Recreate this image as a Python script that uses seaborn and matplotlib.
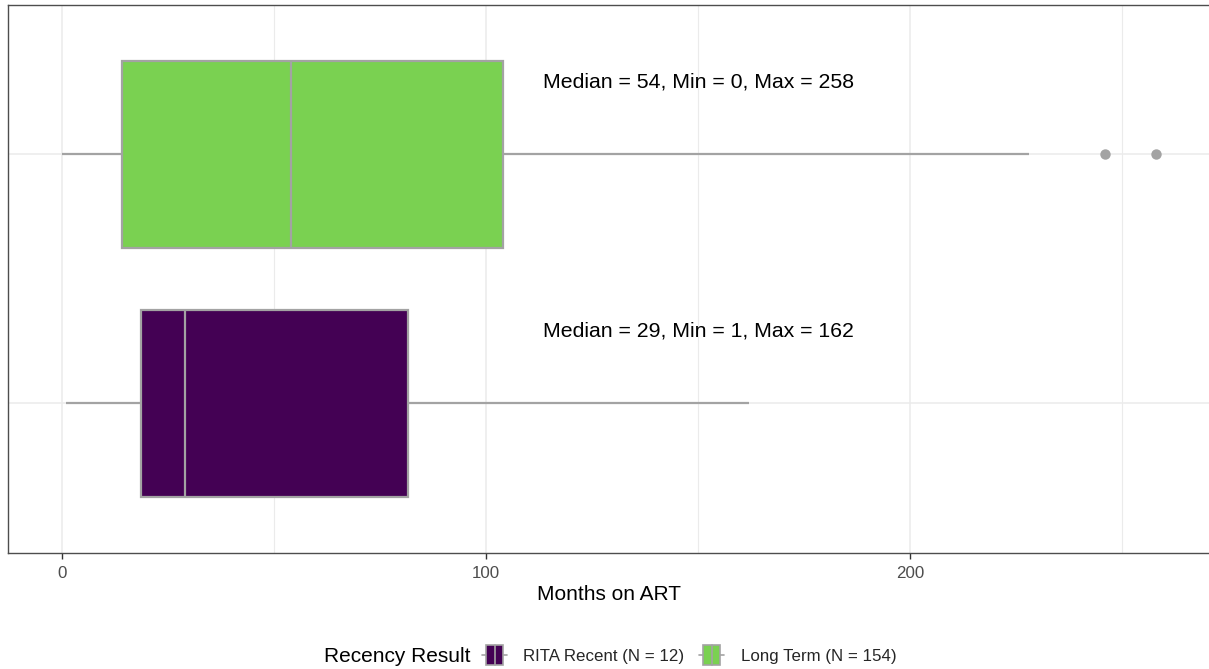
import numpy as np
import pandas as pd
import seaborn as sns
import matplotlib.pyplot as plt
from matplotlib.legend_handler import HandlerBase
from matplotlib.patches import Rectangle, Patch
from matplotlib.lines import Line2D
from matplotlib.ticker import FixedLocator

# Months on ART summary per recency group (top to bottom)
groups = ["Long Term", "RITA Recent"]
whisker_low = [0, 1]
q1 = [14, 18.5]
median = [54, 29]
q3 = [104, 81.5]
whisker_high = [228, 162]
outlier_values = [246, 258]
outlier_groups = ["Long Term", "Long Term"]

# legend entries
legend_order = ["RITA Recent", "Long Term"]
legend_labels = ["RITA Recent (N = 12)", "Long Term (N = 154)"]
fill_colors = {"RITA Recent": "#440154", "Long Term": "#7AD151"}

x_ticks = [0, 100, 200]
x_minor = [50, 150, 250]

EDGE = "#A3A3A3"

sns.set_theme(style="whitegrid")
plt.rcParams["font.family"] = ["Liberation Sans", "DejaVu Sans"]

# five-number rows per group; whis=(0, 100) makes whiskers span them exactly
rows = []
for i, g in enumerate(groups):
    for v in (whisker_low[i], q1[i], median[i], q3[i], whisker_high[i]):
        rows.append({"group": g, "months": v})
df = pd.DataFrame(rows)

fig = plt.figure(figsize=(12.09, 6.69), dpi=100)
ax = fig.add_axes([7.5 / 1209, 1 - 553 / 669, (1211 - 7.5) / 1209, (553 - 4.5) / 669])

sns.boxplot(
    data=df, x="months", y="group", hue="group",
    order=groups, hue_order=legend_order, palette=fill_colors,
    whis=(0, 100), width=0.75, saturation=1,
    linecolor=EDGE, linewidth=1.6, showcaps=False,
    legend=False, ax=ax,
)
sns.stripplot(
    x=outlier_values, y=outlier_groups, order=groups,
    jitter=False, color=EDGE, size=7.5, linewidth=0,
    legend=False, ax=ax,
)

ax.set_xlim(-12.9, 270.9)
ax.set_ylim(1.6, -0.6)

ax.xaxis.set_major_locator(FixedLocator(x_ticks))
ax.xaxis.set_minor_locator(FixedLocator(x_minor))
ax.grid(which="major", axis="x", color="#EBEBEB", lw=1.1)
ax.grid(which="minor", axis="x", color="#EBEBEB", lw=0.8)
ax.yaxis.grid(True, color="#EBEBEB", lw=1.1)
ax.set_axisbelow(True)

ax.tick_params(axis="x", which="major", length=4, width=1, color="#333333",
               labelsize=12.2, labelcolor="#4D4D4D", pad=5, bottom=True)
ax.tick_params(axis="x", which="minor", length=0)
ax.tick_params(axis="y", left=False, labelleft=False)
ax.set_ylabel("")
ax.set_xlabel("Months on ART", fontsize=15, color="black", labelpad=3)

for side in ax.spines.values():
    side.set_visible(True)
    side.set_color("#4D4D4D")
    side.set_linewidth(1.0)

# summary annotations above each box
for i, g in enumerate(groups):
    extra = [v for v, og in zip(outlier_values, outlier_groups) if og == g]
    gmax = max([whisker_high[i]] + extra)
    ax.text(150, i - 0.29, f"Median = {median[i]}, Min = {whisker_low[i]}, Max = {gmax}",
            ha="center", va="center", fontsize=15.3, color="black")


class BoxKey(HandlerBase):
    def create_artists(self, legend, orig_handle, xdescent, ydescent,
                       width, height, fontsize, trans):
        face = orig_handle.get_facecolor()
        x0, y0 = -xdescent, -ydescent
        bw = width * 0.68
        bx = x0 + (width - bw) / 2
        ymid = y0 + height / 2
        box = Rectangle((bx, y0), bw, height, facecolor=face, edgecolor=EDGE,
                        lw=1.2, transform=trans)
        wl = Line2D([x0, bx], [ymid, ymid], color=EDGE, lw=1.2, transform=trans)
        wr = Line2D([bx + bw, x0 + width], [ymid, ymid], color=EDGE, lw=1.2, transform=trans)
        med = Line2D([bx + bw / 2] * 2, [y0, y0 + height], color=EDGE, lw=1.2, transform=trans)
        return [wl, wr, box, med]


handles = [Patch(facecolor=fill_colors[g]) for g in legend_order]
fig.text(470 / 1209, 1 - 657 / 669, "Recency Result", ha="right", va="center",
         fontsize=15, color="black")
fig.legend(handles, legend_labels, handler_map={Patch: BoxKey()},
           loc="center left", bbox_to_anchor=(482 / 1209, 1 - 655 / 669),
           ncol=2, frameon=False, fontsize=12.2,
           handlelength=1.48, handleheight=1.42, handletextpad=0.95,
           columnspacing=0.89, borderpad=0, borderaxespad=0)

fig.savefig("out.png", dpi=100)
